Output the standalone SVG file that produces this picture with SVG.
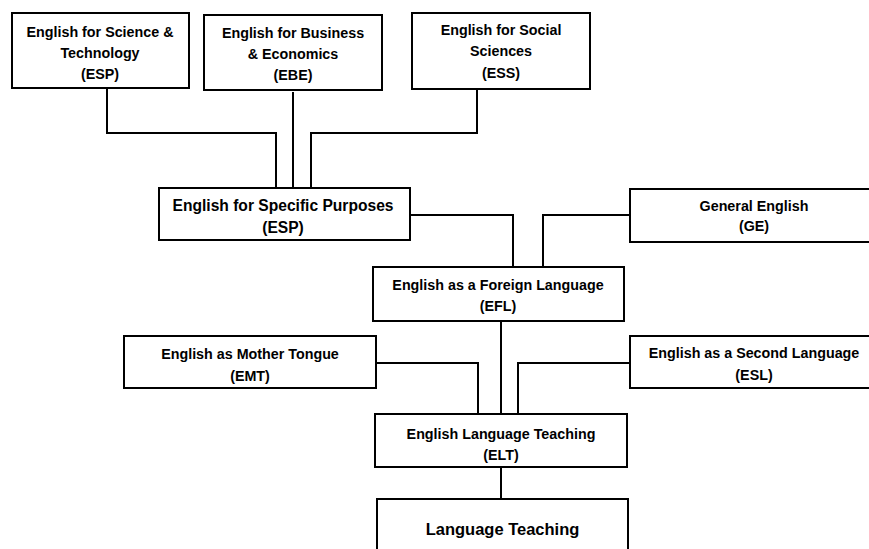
<svg xmlns="http://www.w3.org/2000/svg" width="869" height="549" viewBox="0 0 869 549">
<style>
rect{fill:#fff;stroke:#000;stroke-width:2}
.c path{fill:none;stroke:#000;stroke-width:2}
text{font-family:"Liberation Sans",Arial,sans-serif;font-weight:bold;font-size:14.3px;fill:#000;text-anchor:middle}
</style>
<rect x="0" y="0" width="869" height="549" style="stroke:none"/>
<g class="c" id="connectors">
<path d="M107 88V133H276V188"/>
<path d="M293 92V188"/>
<path d="M477 89V133H311V188"/>
<path d="M410 215H513V267"/>
<path d="M630 215H543V267"/>
<path d="M501 321V414"/>
<path d="M376 363H478V414"/>
<path d="M630 363H518V414"/>
<path d="M501 467V499"/>
</g>
<g id="est"><rect x="12" y="13" width="177" height="75"/><text x="100" y="37">English for Science &amp;</text><text x="100" y="58">Technology</text><text x="100" y="79">(ESP)</text></g>
<g id="ebe"><rect x="204" y="15" width="178" height="75"/><text x="293" y="38">English for Business</text><text x="293" y="59">&amp; Economics</text><text x="293" y="80">(EBE)</text></g>
<g id="ess"><rect x="412" y="13" width="178" height="76"/><text x="501" y="35">English for Social</text><text x="501" y="56">Sciences</text><text x="501" y="78">(ESS)</text></g>
<g id="esp"><rect x="159" y="188" width="251" height="52"/><text x="283" y="211" style="font-size:15.6px">English for Specific Purposes</text><text x="283" y="233" style="font-size:15.6px">(ESP)</text></g>
<g id="ge"><rect x="630" y="189" width="250" height="53"/><text x="754" y="210.5">General English</text><text x="754" y="231">(GE)</text></g>
<g id="efl"><rect x="373" y="267" width="251" height="54"/><text x="498" y="290">English as a Foreign Language</text><text x="498" y="311">(EFL)</text></g>
<g id="emt"><rect x="124" y="336" width="252" height="52"/><text x="250" y="358.5">English as Mother Tongue</text><text x="250" y="381">(EMT)</text></g>
<g id="esl"><rect x="630" y="336" width="250" height="52"/><text x="754" y="358">English as a Second Language</text><text x="754" y="380">(ESL)</text></g>
<g id="elt"><rect x="375" y="414" width="252" height="53"/><text x="501" y="439">English Language Teaching</text><text x="501" y="460">(ELT)</text></g>
<g id="lt"><rect x="377" y="499" width="251" height="60"/><text x="502.5" y="535" style="font-size:16.5px">Language Teaching</text></g>
</svg>
